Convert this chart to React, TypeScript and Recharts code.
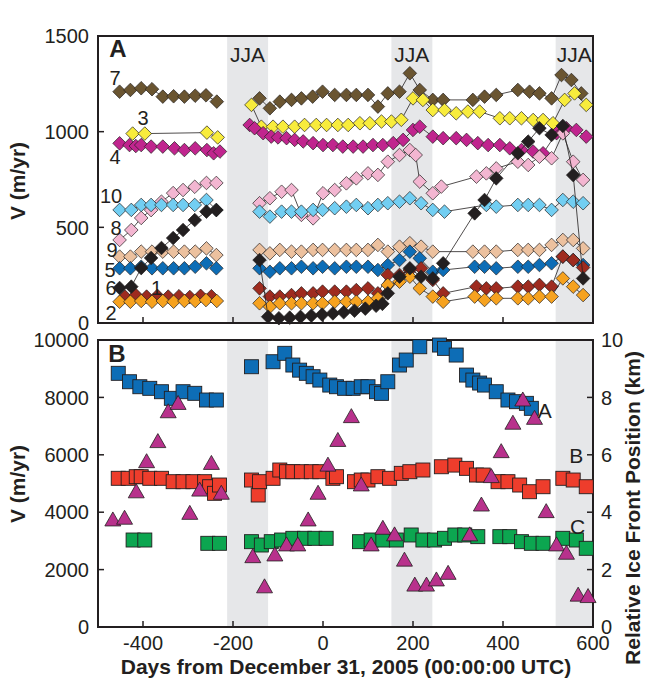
import React from 'react';
import { ScatterChart, Scatter, XAxis, YAxis, ReferenceArea, ReferenceDot } from 'recharts';

type Pt = [number, number];

const INK = '#231f20';
const FONT = '"Liberation Sans", Arial, Helvetica, sans-serif';
const BAND = '#e6e7e9';

// shared x axis: days from Dec 31 2005
const dayTicks = [-400, -200, 0, 200, 400, 600];
const dateLabels = ['11/26/04', '6/14/05', '12/31/05', '7/19/06', '2/4/07', '8/23/07'];
const jjaBands: Pt[] = [[-213, -122], [152, 243], [517, 600]];
const velTicksA = [0, 500, 1000, 1500];
const velTicksB = [0, 2000, 4000, 6000, 8000, 10000];
const frontTicks = [0, 2, 4, 6, 8, 10];

// panel A: speeds (m/yr) of the numbered points, diamonds
const s1: Pt[] = [[-440, 138], [-416, 146], [-392, 138], [-368, 142], [-344, 138], [-320, 140], [-296, 136], [-272, 142], [-248, 140],
  [-141, 181], [-118, 138], [-96, 138], [-70, 146], [-48, 155], [-22, 155], [-1, 164], [26, 164], [52, 164], [74, 172], [100, 181], [122, 155], [144, 251], [170, 251], [193, 277], [218, 286], [244, 225], [267, 155], [341, 190], [363, 181], [385, 181], [433, 190], [456, 190], [481, 199], [508, 190], [533, 347], [556, 329], [578, 290]];
const s2: Pt[] = [[-452, 111], [-428, 111], [-404, 115], [-380, 111], [-356, 115], [-332, 111], [-308, 115], [-284, 115], [-260, 120], [-236, 115],
  [-141, 103], [-118, 85], [-96, 103], [-70, 103], [-48, 103], [-22, 103], [-1, 103], [26, 111], [52, 111], [74, 111], [100, 111], [122, 129], [144, 199], [170, 216], [193, 242], [215, 181], [244, 138], [267, 111], [337, 138], [359, 120], [385, 129], [433, 129], [456, 129], [481, 138], [508, 138], [533, 233], [556, 190], [578, 146]];
const s3: Pt[] = [[-423, 990], [-396, 990], [-258, 995], [-234, 970],
  [-159, 1140], [-137, 1026], [-111, 1026], [-89, 1026], [-63, 1026], [-41, 1035], [-15, 1035], [8, 1035], [33, 1035], [56, 1035], [82, 1044], [104, 1044], [130, 1053], [152, 1053], [174, 1062], [200, 1174], [222, 1166], [244, 1113], [270, 1113], [296, 1096], [322, 1105], [348, 1105], [393, 1070], [415, 1070], [441, 1070], [467, 1061], [489, 1061], [511, 1044], [537, 1166], [559, 1200], [585, 1140]];
const s4: Pt[] = [[-452, 939], [-430, 930], [-416, 925], [-404, 930], [-382, 922], [-356, 922], [-330, 913], [-308, 904], [-284, 913], [-258, 904], [-243, 887], [-229, 896],
  [-163, 1035], [-152, 1018], [-133, 992], [-115, 974], [-100, 970], [-81, 966], [-63, 957], [-44, 949], [-22, 940], [0, 930], [22, 930], [44, 922], [67, 922], [89, 922], [111, 930], [133, 930], [156, 940], [178, 957], [200, 1009], [215, 1026], [244, 974], [267, 966], [296, 966], [319, 957], [344, 940], [367, 930], [393, 930], [415, 913], [441, 904], [467, 896], [489, 887], [519, 992], [541, 1018], [563, 1009], [585, 974]];
const s5: Pt[] = [[-452, 286], [-428, 286], [-404, 294], [-380, 286], [-356, 286], [-332, 286], [-308, 286], [-284, 294], [-259, 312], [-237, 286],
  [-141, 286], [-118, 268], [-96, 286], [-70, 286], [-48, 294], [-22, 286], [-1, 294], [26, 286], [52, 294], [74, 294], [100, 294], [122, 277], [144, 303], [170, 329], [193, 373], [215, 338], [244, 268], [267, 277], [337, 294], [359, 294], [385, 286], [433, 294], [456, 294], [481, 303], [508, 312], [533, 347], [556, 329], [578, 303]];
const s6: Pt[] = [[-452, 183], [-426, 190], [-404, 287], [-382, 340], [-359, 392], [-333, 444], [-311, 486], [-285, 538], [-259, 582], [-237, 590],
  [-141, 329], [-122, 33], [-98, 25], [-74, 28], [-50, 32], [-26, 38], [-2, 44], [22, 50], [46, 56], [70, 64], [94, 75], [118, 90], [132, 100], [144, 155], [170, 242], [193, 286], [218, 242], [244, 233], [267, 312], [337, 573], [359, 643], [385, 756], [433, 887], [456, 948], [481, 1018], [508, 983], [533, 1030], [556, 773], [578, 233]];
const s7: Pt[] = [[-452, 1209], [-428, 1218], [-404, 1227], [-380, 1222], [-356, 1183], [-332, 1185], [-308, 1183], [-284, 1188], [-260, 1190], [-236, 1157],
  [-141, 1174], [-118, 1122], [-96, 1157], [-70, 1166], [-48, 1174], [-23, 1183], [-1, 1209], [26, 1192], [52, 1192], [74, 1192], [100, 1192], [122, 1131], [144, 1200], [170, 1209], [193, 1305], [215, 1218], [244, 1166], [267, 1166], [333, 1166], [359, 1183], [385, 1192], [433, 1218], [459, 1209], [481, 1200], [508, 1174], [530, 1296], [552, 1270], [574, 1200]];
const s8: Pt[] = [[-452, 434], [-426, 486], [-404, 549], [-382, 590], [-359, 634], [-333, 679], [-311, 695], [-285, 712], [-259, 732], [-237, 732],
  [-141, 626], [-118, 652], [-92, 686], [-70, 695], [-48, 565], [-22, 547], [0, 678], [26, 695], [52, 730], [74, 756], [100, 782], [122, 774], [144, 843], [170, 878], [193, 904], [206, 878], [215, 739], [244, 678], [263, 713], [341, 765], [363, 782], [385, 808], [433, 843], [456, 826], [481, 869], [508, 861], [533, 991], [556, 843], [578, 748]];
const s9: Pt[] = [[-452, 347], [-428, 347], [-404, 373], [-380, 373], [-356, 373], [-332, 373], [-308, 373], [-284, 373], [-259, 390], [-237, 355],
  [-141, 382], [-118, 364], [-96, 382], [-70, 373], [-48, 373], [-22, 382], [-1, 382], [26, 382], [52, 382], [74, 382], [100, 382], [122, 408], [144, 373], [170, 399], [193, 417], [218, 399], [244, 373], [333, 373], [359, 373], [385, 373], [433, 382], [456, 382], [481, 382], [508, 408], [533, 434], [556, 434], [578, 390]];
const s10: Pt[] = [[-452, 591], [-426, 591], [-404, 617], [-382, 617], [-359, 617], [-333, 617], [-311, 617], [-285, 617], [-259, 643], [-237, 591],
  [-141, 582], [-118, 556], [-92, 582], [-70, 582], [-48, 582], [-22, 591], [-1, 591], [26, 600], [52, 608], [74, 617], [100, 600], [122, 617], [144, 626], [170, 634], [193, 652], [218, 626], [244, 591], [270, 582], [363, 617], [385, 608], [433, 617], [456, 617], [481, 617], [508, 591], [533, 643], [556, 634], [578, 626]];

// panel B: speeds at A, B, C (m/yr) and ice front position (km)
const speedA: Pt[] = [[-455, 8839], [-430, 8546], [-407, 8372], [-385, 8316], [-359, 8198], [-337, 7968], [-311, 8198], [-285, 8142], [-259, 7909], [-237, 7909],
  [-159, 9069], [-111, 9243], [-85, 9536], [-67, 9128], [-52, 8950], [-37, 8839], [-22, 8721], [-7, 8604], [15, 8430], [30, 8372], [48, 8316], [67, 8316], [85, 8372], [100, 8372], [119, 8198], [130, 8140], [144, 8546], [170, 9128], [185, 9302], [215, 9766], [259, 9824], [270, 9708], [296, 9476], [319, 8778], [333, 8604], [348, 8500], [359, 8430], [385, 8198], [411, 7909], [430, 7851], [452, 7793], [463, 7619]];
const speedB: Pt[] = [[-455, 5181], [-433, 5181], [-415, 5237], [-404, 5237], [-385, 5181], [-359, 5181], [-333, 5063], [-311, 5063], [-289, 5063], [-263, 5063], [-252, 4888], [-241, 4658], [-230, 4947],
  [-159, 5121], [-144, 4599], [-141, 5063], [-111, 5181], [-96, 5470], [-81, 5411], [-67, 5411], [-48, 5411], [-26, 5411], [-7, 5411], [22, 5181], [30, 5237], [70, 5063], [85, 5121], [100, 5121], [122, 5237], [148, 5181], [174, 5354], [193, 5411], [222, 5470], [263, 5584], [293, 5642], [319, 5528], [341, 5295], [356, 5295], [389, 5063], [411, 5063], [437, 4947], [459, 4714], [489, 4888], [533, 5181], [556, 5121], [585, 4888]];
const speedC: Pt[] = [[-422, 3031], [-396, 3031], [-256, 2916], [-230, 2916],
  [-159, 2973], [-137, 2857], [-115, 2973], [-92, 3031], [-67, 3090], [-41, 3090], [-18, 3090], [7, 3090], [81, 2973], [107, 3031], [133, 3031], [163, 3031], [196, 3206], [222, 3031], [248, 3031], [270, 3090], [293, 3206], [315, 3206], [344, 3148], [393, 3148], [415, 3148], [441, 2973], [463, 2916], [489, 2916], [533, 3090], [563, 3031], [585, 2742]];
const frontKm: Pt[] = [[-467, 3.73], [-441, 3.79], [-415, 4.71], [-392, 5.76], [-367, 6.46], [-344, 7.5], [-322, 7.79], [-296, 3.96], [-274, 4.77], [-248, 5.7], [-226, 4.66],
  [-156, 2.45], [-130, 1.4], [-107, 2.51], [-81, 2.86], [-56, 2.86], [-33, 3.73], [-11, 4.66], [11, 5.64], [33, 6.5], [63, 7.33], [85, 4.95], [107, 2.86], [133, 3.44], [159, 3.21], [181, 2.33], [204, 1.46], [230, 1.46], [252, 1.64], [278, 1.87], [326, 3.21], [352, 4.25], [374, 5.24], [396, 6.11], [422, 7.1], [444, 7.91], [470, 7.27], [496, 4.02], [519, 2.86], [541, 2.57], [567, 1.11], [589, 1.06]];

const seriesA = [
  { name: '7', color: '#6a5531', pts: s7, label: [-462, 1281] },
  { name: '3', color: '#f8ec3c', pts: s3, label: [-400, 1071] },
  { name: '4', color: '#c0258e', pts: s4, label: [-462, 867] },
  { name: '8', color: '#f3b6d1', pts: s8, label: [-460, 496] },
  { name: '10', color: '#72cef2', pts: s10, label: [-471, 664] },
  { name: '9', color: '#ecc19f', pts: s9, label: [-469, 382] },
  { name: '5', color: '#0d6db6', pts: s5, label: [-473, 277] },
  { name: '1', color: '#9e2b1f', pts: s1, label: [-370, 183] },
  { name: '2', color: '#f6a21f', pts: s2, label: [-471, 52] },
  { name: '6', color: INK, pts: s6, label: [-471, 183] },
];

const seriesB = [
  { name: 'A', color: '#0d6db6', pts: speedA, label: [493, 7525] },
  { name: 'B', color: '#ee3d2c', pts: speedB, label: [563, 5958] },
  { name: 'C', color: '#0ca650', pts: speedC, label: [566, 3484] },
];

const toObjs = (pts: Pt[]) => pts.map(([d, v]) => ({ d, v }));
// the pre-2005-summer run is not joined to the later one
const splitRuns = (pts: Pt[]) => [toObjs(pts.filter((p) => p[0] < -180)), toObjs(pts.filter((p) => p[0] > -180))];

const diamond = (fill: string) => (p: any) => {
  const { cx, cy } = p;
  const r = 6.8;
  return <path d={`M${cx} ${cy - r}L${cx + r} ${cy}L${cx} ${cy + r}L${cx - r} ${cy}Z`} fill={fill} stroke={INK} strokeWidth={0.7} />;
};
const square = (fill: string) => (p: any) => {
  const { cx, cy } = p;
  const r = 7;
  return <rect x={cx - r} y={cy - r} width={2 * r} height={2 * r} fill={fill} stroke={INK} strokeWidth={0.9} />;
};
const triangle = (fill: string) => (p: any) => {
  const { cx, cy } = p;
  return <path d={`M${cx} ${cy - 8}L${cx + 8} ${cy + 6}L${cx - 8} ${cy + 6}Z`} fill={fill} stroke={INK} strokeWidth={0.8} />;
};

const TICK_LEN = 6;
const TICK_FS = 20;

const bottomTick = (withLabel: boolean) => (p: any) => (
  <g>
    <line x1={p.x} x2={p.x} y1={p.y} y2={p.y - TICK_LEN} stroke={INK} strokeWidth={1.5} />
    {withLabel && (
      <text x={p.x} y={p.y + 23} textAnchor="middle" fontSize={TICK_FS} fill={INK}>{p.payload.value}</text>
    )}
  </g>
);
const topTick = (withLabel: boolean) => (p: any) => (
  <g>
    <line x1={p.x} x2={p.x} y1={p.y} y2={p.y + TICK_LEN} stroke={INK} strokeWidth={1.5} />
    {withLabel && (
      <text x={p.x} y={p.y - 8} textAnchor="middle" fontSize={TICK_FS} fill={INK}>
        {dateLabels[dayTicks.indexOf(p.payload.value)]}
      </text>
    )}
  </g>
);
const leftTick = (p: any) => (
  <g>
    <line x1={p.x} x2={p.x + TICK_LEN} y1={p.y} y2={p.y} stroke={INK} strokeWidth={1.5} />
    <text x={p.x - 9} y={p.y} dy="0.36em" textAnchor="end" fontSize={TICK_FS} fill={INK}>{p.payload.value}</text>
  </g>
);
const rightTick = (withLabel: boolean) => (p: any) => (
  <g>
    <line x1={p.x} x2={p.x - TICK_LEN} y1={p.y} y2={p.y} stroke={INK} strokeWidth={1.5} />
    {withLabel && (
      <text x={p.x + 8} y={p.y} dy="0.36em" textAnchor="start" fontSize={TICK_FS} fill={INK}>{p.payload.value}</text>
    )}
  </g>
);

const frame = { stroke: INK, strokeWidth: 2, strokeLinecap: 'square' as const };

const note = (value: string, size: number, bold = false) => ({
  value,
  position: 'center' as const,
  fontSize: size,
  fontWeight: bold ? 700 : 400,
  fill: INK,
});

// panel A: plot box y 36..323 in page pixels
const PanelA = () => (
  <ScatterChart width={645} height={338} margin={{ top: 0, right: 0, bottom: 0, left: 0 }}>
    <XAxis xAxisId="b" dataKey="d" type="number" domain={[-500, 600]} ticks={dayTicks} interval={0}
      orientation="bottom" height={15} tickSize={0} tickMargin={0} axisLine={frame} tickLine={false} tick={bottomTick(false)} />
    <XAxis xAxisId="t" type="number" domain={[-500, 600]} ticks={dayTicks} interval={0}
      orientation="top" height={36} tickSize={0} tickMargin={0} axisLine={frame} tickLine={false} tick={topTick(true)} />
    <YAxis yAxisId="l" dataKey="v" type="number" domain={[0, 1500]} ticks={velTicksA} interval={0}
      width={98} tickSize={0} tickMargin={0} axisLine={frame} tickLine={false} tick={leftTick} />
    <YAxis yAxisId="r" orientation="right" type="number" domain={[0, 1500]} ticks={velTicksA} interval={0}
      width={52} tickSize={0} tickMargin={0} axisLine={frame} tickLine={false} tick={rightTick(false)} />
    {jjaBands.map(([a, b]) => (
      <ReferenceArea key={a} xAxisId="b" yAxisId="l" x1={a} x2={b} fill={BAND} fillOpacity={1} stroke="none"
        label={{ value: 'JJA', position: 'insideTop', offset: 11, fontSize: 21, fill: INK }} />
    ))}
    {seriesA.flatMap((s) =>
      splitRuns(s.pts).map((run, i) => (
        <Scatter key={`${s.name}-${i}`} xAxisId="b" yAxisId="l" data={run} isAnimationActive={false}
          line={{ stroke: INK, strokeWidth: 0.8 }} lineType="joint" shape={diamond(s.color)} />
      ))
    )}
    {seriesA.map((s) => (
      <ReferenceDot key={`lab-${s.name}`} xAxisId="b" yAxisId="l" x={s.label[0]} y={s.label[1]} r={0}
        fill="none" stroke="none" label={note(s.name, 20)} />
    ))}
    <ReferenceDot xAxisId="b" yAxisId="l" x={-456} y={1437} r={0} fill="none" stroke="none" label={note('A', 24, true)} />
  </ScatterChart>
);

// panel B: plot box y 340..627 in page pixels (svg starts at 322)
const PanelB = () => (
  <ScatterChart width={645} height={358} margin={{ top: 0, right: 0, bottom: 0, left: 0 }}>
    <XAxis xAxisId="b" dataKey="d" type="number" domain={[-500, 600]} ticks={dayTicks} interval={0}
      orientation="bottom" height={53} tickSize={0} tickMargin={0} axisLine={frame} tickLine={false} tick={bottomTick(true)} />
    <XAxis xAxisId="t" type="number" domain={[-500, 600]} ticks={dayTicks} interval={0}
      orientation="top" height={18} tickSize={0} tickMargin={0} axisLine={frame} tickLine={false} tick={topTick(false)} />
    <YAxis yAxisId="l" dataKey="v" type="number" domain={[0, 10000]} ticks={velTicksB} interval={0}
      width={98} tickSize={0} tickMargin={0} axisLine={frame} tickLine={false} tick={leftTick} />
    <YAxis yAxisId="r" dataKey="v" orientation="right" type="number" domain={[0, 10]} ticks={frontTicks} interval={0}
      width={52} tickSize={0} tickMargin={0} axisLine={frame} tickLine={false} tick={rightTick(true)} />
    {jjaBands.map(([a, b]) => (
      <ReferenceArea key={a} xAxisId="b" yAxisId="l" x1={a} x2={b} fill={BAND} fillOpacity={1} stroke="none" />
    ))}
    {seriesB.map((s) => (
      <Scatter key={s.name} xAxisId="b" yAxisId="l" data={toObjs(s.pts)} isAnimationActive={false} shape={square(s.color)} />
    ))}
    <Scatter xAxisId="b" yAxisId="r" data={toObjs(frontKm)} isAnimationActive={false} shape={triangle('#b8318c')} />
    {seriesB.map((s) => (
      <ReferenceDot key={`lab-${s.name}`} xAxisId="b" yAxisId="l" x={s.label[0]} y={s.label[1]} r={0}
        fill="none" stroke="none" label={note(s.name, 21)} />
    ))}
    <ReferenceDot xAxisId="b" yAxisId="l" x={-458} y={9546} r={0} fill="none" stroke="none" label={note('B', 24, true)} />
  </ScatterChart>
);

export default function App() {
  return (
    <div style={{ position: 'absolute', left: 0, top: 0, width: 645, height: 680, background: '#fff', fontFamily: FONT, overflow: 'hidden' }}>
      <div style={{ position: 'absolute', left: 0, top: 0 }}>
        <PanelA />
      </div>
      <div style={{ position: 'absolute', left: 0, top: 322 }}>
        <PanelB />
      </div>
      <svg width={645} height={680} style={{ position: 'absolute', left: 0, top: 0, pointerEvents: 'none' }}>
        <g fontWeight={700} fontSize={21} fill={INK}>
          <text transform="translate(25,181) rotate(-90)" textAnchor="middle">V (m/yr)</text>
          <text transform="translate(25,484) rotate(-90)" textAnchor="middle">V (m/yr)</text>
          <text transform="translate(640,508) rotate(-90)" textAnchor="middle">Relative Ice Front Position (km)</text>
          <text x={346} y={674} textAnchor="middle">Days from December 31, 2005 (00:00:00 UTC)</text>
        </g>
      </svg>
    </div>
  );
}
